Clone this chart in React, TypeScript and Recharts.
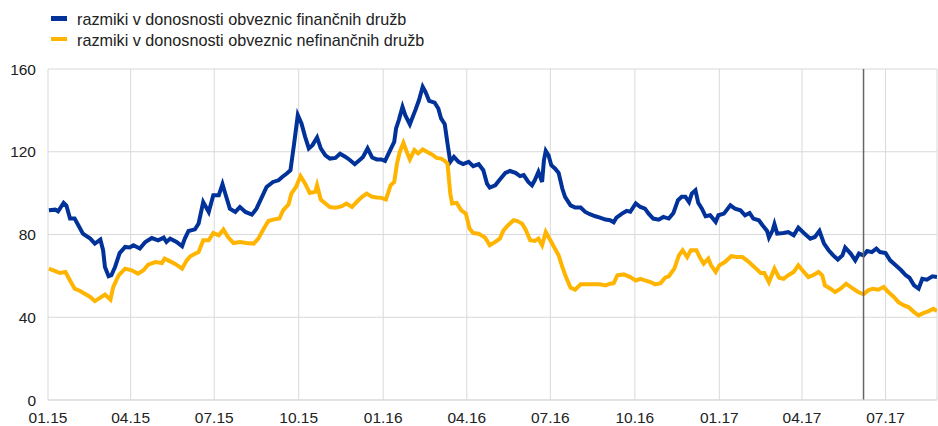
import React from "react";
import { LineChart, Line, XAxis, YAxis, CartesianGrid, ReferenceLine } from "recharts";

// x = days since 1 Jan 2015
const tickDays = [0, 90, 181, 273, 365, 456, 547, 639, 731, 821, 912];
const tickLabels = ["01.15", "04.15", "07.15", "10.15", "01.16", "04.16", "07.16", "10.16", "01.17", "04.17", "07.17"];
const yTicks = [0, 40, 80, 120, 160];
const markerDay = 888;
const seriesNames = [
  "razmiki v donosnosti obveznic finančnih družb",
  "razmiki v donosnosti obveznic nefinančnih družb",
];
const seriesColors = ["#003299", "#ffb400"];

const finDays = [
  1, 8, 11, 17, 20, 24, 29, 33, 38, 46,
  51, 57, 60, 62, 66, 69, 73, 78, 84, 89,
  93, 100, 106, 113, 120, 126, 129, 133, 140, 146,
  149, 153, 160, 164, 169, 175, 180, 186, 190, 193,
  198, 204, 209, 215, 222, 227, 233, 238, 245, 251,
  255, 260, 264, 268, 272, 276, 280, 284, 288, 293,
  297, 302, 307, 313, 318, 324, 329, 334, 340, 343,
  348, 353, 358, 363, 367, 373, 377, 379, 382, 386,
  389, 394, 400, 404, 408, 411, 415, 421, 425, 428,
  432, 435, 438, 442, 447, 452, 458, 463, 469, 474,
  478, 481, 487, 492, 498, 503, 509, 514, 518, 523,
  527, 530, 534, 538, 540, 542, 545, 548, 552, 556,
  560, 563, 569, 574, 580, 585, 590, 596, 601, 607,
  612, 616, 619, 625, 630, 634, 640, 645, 650, 654,
  659, 665, 670, 676, 681, 686, 690, 694, 698, 701,
  705, 708, 712, 716, 721, 727, 730, 736, 743, 748,
  754, 759, 764, 768, 774, 778, 783, 785, 789, 791,
  794, 801, 806, 812, 817, 823, 830, 835, 840, 845,
  850, 855, 860, 865, 868, 874, 879, 883, 888, 892,
  897, 902, 906, 912, 917, 923, 929, 934, 938, 943,
  948, 952, 957, 963, 968,
];
const finSpread = [
  91.7, 92, 91.2, 95.3, 94, 87.7, 87.7, 84.5, 80.4, 78,
  75.6, 77.5, 72.4, 64.3, 59.8, 60.3, 64.3, 71, 74, 73.7,
  74.8, 73.2, 76.4, 78.3, 77.2, 78.5, 76.4, 78, 76.4, 74.3,
  78, 81.7, 82.5, 85.3, 95.7, 90.9, 99, 99, 104.3, 99.8,
  92.5, 90.9, 93.3, 90.9, 89.6, 92.5, 98.2, 103, 105.4, 106.2,
  107.8, 109.5, 111.1, 124, 137.7, 133.7, 127.2, 121.6, 123.2, 126.9,
  121.6, 118.3, 116.7, 117, 119, 117.5, 115.9, 114, 116.3, 117.5,
  121.6, 117.2, 116.3, 116.3, 115.6, 121.1, 124.8, 131.3, 135.3, 141.7,
  137.7, 133.3, 140.1, 145, 151.4, 149, 144.6, 143.7, 140.9, 136.1,
  133.3, 124, 115.1, 117.5, 115.1, 114, 115.1, 113, 114, 111.1,
  104.6, 102.7, 103.8, 106.6, 109.8, 110.7, 109.8, 108.2, 108.7, 105.4,
  103.8, 106.2, 110.3, 105.4, 115.9, 120.4, 118.3, 113.5, 111.9, 109.8,
  102.2, 98.2, 94.1, 93, 93, 90.9, 89.8, 88.8, 88.2, 87.2,
  86.9, 85.9, 88.2, 90.1, 91.4, 91, 95, 93.3, 92.5, 90.1,
  87.7, 87.2, 88.5, 87.7, 90.4, 96.6, 98.2, 98.2, 95.7, 99.8,
  101.4, 95.3, 92.5, 88.8, 89.3, 86.1, 89.3, 90.1, 94.1, 92.5,
  91.7, 89.3, 90.4, 87.7, 86.9, 84.5, 81.7, 78.5, 82, 85,
  80.4, 80.7, 81.2, 79.6, 83.3, 80.7, 78, 78.8, 81.7, 75.6,
  72.4, 69.9, 67.9, 69.9, 73.7, 70.8, 67.5, 70.8, 69.9, 72,
  71.5, 73.2, 71.5, 71, 67.5, 65.1, 62.7, 60.3, 59.1, 55.4,
  53.8, 58.6, 58.2, 59.8, 59.4,
];

const nonFinDays = [
  1, 8, 13, 19, 24, 29, 35, 40, 46, 51,
  57, 62, 68, 71, 77, 84, 91, 98, 104, 109,
  117, 124, 127, 133, 138, 146, 151, 155, 160, 164,
  169, 175, 180, 186, 191, 196, 202, 209, 216, 224,
  229, 235, 240, 245, 252, 256, 262, 265, 270, 275,
  280, 285, 291, 293, 297, 302, 307, 313, 320, 325,
  331, 336, 342, 347, 353, 358, 363, 368, 373, 377,
  380, 383, 387, 391, 394, 399, 403, 408, 413, 418,
  423, 428, 432, 435, 438, 440, 445, 450, 455, 459,
  463, 469, 476, 481, 487, 492, 496, 501, 507, 511,
  516, 520, 525, 530, 534, 538, 542, 547, 551, 556,
  560, 564, 569, 574, 580, 587, 594, 601, 607, 612,
  616, 620, 627, 634, 640, 645, 650, 656, 661, 667,
  672, 676, 682, 687, 691, 696, 700, 706, 710, 714,
  719, 722, 727, 731, 737, 744, 750, 756, 761, 767,
  771, 776, 780, 785, 791, 796, 801, 806, 812, 817,
  823, 828, 833, 839, 843, 846, 852, 857, 863, 869,
  875, 882, 888, 893, 898, 904, 910, 915, 921, 926,
  932, 937, 943, 948, 953, 959, 964, 968,
];
const nonFinSpread = [
  63.5, 62.3, 61.4, 61.9, 57.8, 53.8, 52.7, 51.4, 49.8, 47.8,
  49.5, 51, 48.5, 54.6, 60.3, 63.5, 62.7, 61.1, 62.7, 65.4,
  66.7, 66.2, 68.3, 67, 65.9, 63.5, 67.5, 69.5, 70.7, 71.5,
  77.2, 77.2, 80.7, 79.6, 82.4, 78.8, 75.9, 76.4, 75.9, 75.6,
  78, 82.9, 86.5, 87.2, 87.7, 91.7, 94.6, 99.8, 103, 108.2,
  104.6, 100.1, 100.6, 103.8, 96.9, 95, 93.3, 92.9, 93.7, 95,
  93.3, 95.7, 98.2, 99.8, 98.2, 97.9, 97.7, 96.9, 103.8, 105.4,
  114.3, 119.9, 124.3, 119.5, 116.3, 120.8, 119.2, 121.1, 119.9, 118.7,
  117, 116.7, 115.6, 114.3, 99.8, 95, 95.3, 91.7, 90.1, 82.9,
  80.7, 80.4, 78.5, 74.8, 76.4, 78, 82, 84.5, 86.9, 86.5,
  85.3, 82.4, 77.2, 76.9, 78, 74.8, 81.2, 77.2, 74, 69.9,
  64.3, 59.4, 54.3, 53.3, 55.9, 55.9, 55.9, 55.9, 55.4, 56.2,
  56.5, 60.3, 60.7, 59.4, 57.8, 58.6, 57.8, 57, 55.9, 56.5,
  59.1, 59.8, 63.5, 69.9, 72.4, 69.1, 72.4, 72.4, 68.8, 65.9,
  68.3, 65.1, 61.9, 65.1, 66.7, 69.5, 69.1, 69.1, 67.5, 65.1,
  63.5, 61.4, 61.4, 57, 63.5, 59.1, 58.6, 60.3, 61.9, 65.1,
  61.9, 59.4, 60.3, 61.9, 60.3, 55.4, 53.8, 52.2, 53.8, 56.2,
  54.3, 52.2, 51.1, 53, 53.8, 53.3, 54.6, 52.2, 49.8, 47.3,
  45.7, 44.9, 42.5, 40.9, 42, 43, 44.1, 43,
];

const FONT = "'Liberation Sans', Arial, Helvetica, sans-serif";
const TEXT = "#222222";

export default function App() {
  const finData = finDays.map((d, i) => ({ d, v: finSpread[i] }));
  const nonFinData = nonFinDays.map((d, i) => ({ d, v: nonFinSpread[i] }));
  const tickStyle = { fill: TEXT, fontSize: 15.5, fontFamily: FONT };

  return (
    <div style={{ position: "absolute", left: 0, top: 0, width: 938, height: 426, background: "#fff", fontFamily: FONT, overflow: "hidden" }}>
      {seriesNames.map((name, i) => (
        <div key={name} style={{ position: "absolute", left: 51, top: 9.2 + i * 20.5, height: 20, lineHeight: "20px", fontSize: 16.2, color: TEXT, whiteSpace: "nowrap" }}>
          <span style={{ position: "absolute", left: 0, top: 7, width: 16, height: 4.5, background: seriesColors[i] }} />
          <span style={{ position: "absolute", left: 26 }}>{name}</span>
        </div>
      ))}
      <LineChart width={938} height={426} margin={{ top: 69, right: 1, bottom: 0, left: 0 }}>
        <CartesianGrid stroke="#d9d9d9" strokeWidth={1} />
        <XAxis
          type="number"
          dataKey="d"
          domain={[0, 968]}
          ticks={tickDays}
          interval={0}
          allowDataOverflow
          tickFormatter={(v: number) => tickLabels[tickDays.indexOf(v)] ?? ""}
          height={26}
          tickLine={false}
          tickSize={0}
          tickMargin={12}
          axisLine={{ stroke: "#d9d9d9" }}
          tick={tickStyle}
        />
        <YAxis
          type="number"
          domain={[0, 160]}
          ticks={yTicks}
          interval={0}
          width={48}
          axisLine={false}
          tickLine={false}
          tickSize={0}
          tickMargin={12}
          tick={tickStyle}
        />
        <Line data={finData} dataKey="v" name={seriesNames[0]} stroke={seriesColors[0]} strokeWidth={4} dot={false} activeDot={false} isAnimationActive={false} />
        <Line data={nonFinData} dataKey="v" name={seriesNames[1]} stroke={seriesColors[1]} strokeWidth={4} dot={false} activeDot={false} isAnimationActive={false} />
        <ReferenceLine x={markerDay} stroke="#666666" strokeWidth={1.5} />
      </LineChart>
    </div>
  );
}
